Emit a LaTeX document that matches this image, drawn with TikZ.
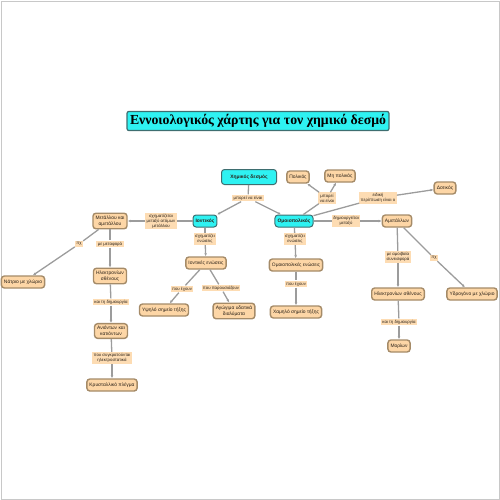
\documentclass[tikz,border=0pt]{standalone}
\usepackage{fontspec}
\setmainfont{Liberation Serif}
\setsansfont{Liberation Sans}
\usetikzlibrary{arrows.meta}
\definecolor{mapink}{HTML}{2A2118}
\definecolor{mapline}{HTML}{9C9C9C}
\definecolor{mappeach}{HTML}{FDD6A6}
\definecolor{mapedge}{HTML}{A58B68}
\definecolor{mapcyan}{HTML}{2EF2F2}
\definecolor{mapteal}{HTML}{3E6E70}
\definecolor{mapframe}{HTML}{C8C8C8}

\begin{document}
\begin{tikzpicture}[x=1pt, y=-1pt, font=\sffamily\fontsize{4.3}{5}\selectfont, >={Latex[length=3pt,width=2.8pt]},
  c/.style={draw=mapedge, fill=mappeach, line width=1.4pt, rounded corners=3pt, inner sep=2.6pt, minimum height=12pt, align=center, text=mapink, font=\sffamily\fontsize{4.9}{5.7}\selectfont},
  key/.style={c, draw=mapteal, fill=mapcyan, line width=1pt, font=\sffamily\bfseries\fontsize{4.9}{5.7}\selectfont},
  lbl/.style={fill=mappeach!85, inner sep=1.4pt, align=center, text=mapink},
  link/.style={draw=mapline, line width=1.3pt},
  ttl/.style={draw=mapteal, fill=mapcyan, line width=1.2pt, rounded corners=2pt, inner sep=3pt, font=\rmfamily\bfseries\fontsize{13.8}{15}\selectfont}]
  \useasboundingbox (0,0) rectangle (500,500);
  \draw[mapframe, line width=0.8pt] (1,1) rectangle (499,499);
  % ---- title ----
  \node[ttl] (title) at (258,121) {Εννοιολογικός χάρτης για τον χημικό δεσμό};
  % ---- top ----
  \node[key, minimum width=55pt, minimum height=15pt] (chem) at (249,177) {Χημικός δεσμός};
  \node[lbl] (ltop) at (248,198) {μπορεί να είναι};
  \node[key] (ion) at (205,221) {Ιοντικός};
  \node[key] (cov) at (294,221) {Ομοιοπολικός};
  % ---- ionic, left ----
  \node[lbl] (lion) at (161,221) {σχηματίζεται\\μεταξύ ατόμων\\μετάλλου};
  \node[c] (metnon) at (110,221) {Μετάλλου και\\αμετάλλου};
  \node[lbl] (lpx) at (79,244) {πχ};
  \node[c] (nacl) at (23,282) {Νάτριο με χλώριο};
  \node[lbl] (lmove) at (110,244) {με μεταφορά};
  \node[c] (valL) at (110,276) {Ηλεκτρονίων\\σθένους};
  \node[lbl] (lcreate) at (111,302) {και τη δημιουργία};
  \node[c] (ions) at (111,331) {Ανιόντων και\\κατιόντων};
  \node[lbl] (lheld) at (112,358) {που συγκρατούνται\\ηλεκτροστατικά};
  \node[c] (cryst) at (112,385) {Κρυσταλλικό πλέγμα};
  % ---- ionic, down ----
  \node[lbl] (lionc) at (205,239) {σχηματίζει\\ενώσεις};
  \node[c] (ioncmp) at (206,263) {Ιοντικές ενώσεις};
  \node[lbl] (lhave) at (182,289) {που έχουν};
  \node[lbl] (lform) at (221,288) {που παρουσιάζουν};
  \node[c] (hmp) at (164,310) {Υψηλό σημείο τήξης};
  \node[c] (cond) at (234,311) {Αγώγιμα υδατικά\\διαλύματα};
  % ---- covalent ----
  \node[lbl] (lpol) at (327,198) {μπορεί\\να είναι};
  \node[c] (polar) at (298,177) {Πολικός};
  \node[c] (nonpolar) at (340,176) {Μη πολικός};
  \node[lbl] (ldat) at (378,198) {ειδική\\περίπτωση είναι ο};
  \node[c] (dative) at (445,188) {Δοτικός};
  \node[lbl] (lnon) at (346,221) {δημιουργείται\\μεταξύ};
  \node[c] (nonmet) at (397,221) {Αμετάλλων};
  \node[lbl] (lcovc) at (295,239) {σχηματίζει\\ενώσεις};
  \node[c] (covcmp) at (296,265) {Ομοιοπολικές ενώσεις};
  \node[lbl] (lhavec) at (296,284) {που έχουν};
  \node[c] (lmp) at (296,312) {Χαμηλό σημείο τήξης};
  % ---- non-metals ----
  \node[lbl] (lmutual) at (398,257) {με αμοιβαία\\συνεισφορά};
  \node[c] (valR) at (398,294) {Ηλεκτρονίων σθένους};
  \node[lbl] (lcreatec) at (399,322) {και τη δημιουργία};
  \node[c] (molec) at (399,346) {Μορίων};
  \node[lbl] (lpxr) at (434,258) {πχ};
  \node[c] (hcl) at (472,294) {Υδρογόνο με χλώριο};
  % ---- connectors ----
  \foreach \a/\b in {chem/ltop, ion/lion, ion/lionc, metnon/lpx, metnon/lmove, valL/lcreate, ions/lheld, ioncmp/lhave, ioncmp/lform,
    cov/lpol, cov/ldat, cov/lnon, cov/lcovc, covcmp/lhavec, nonmet/lmutual, valR/lcreatec, nonmet/lpxr} { \draw[link] (\a) -- (\b); }
  \foreach \a/\b in {ltop/ion, ltop/cov, lion/metnon, lpx/nacl, lmove/valL, lcreate/ions, lheld/cryst, lionc/ioncmp, lhave/hmp, lform/cond,
    lpol/polar, lpol/nonpolar, ldat/dative, lnon/nonmet, lcovc/covcmp, lhavec/lmp, lmutual/valR, lcreatec/molec, lpxr/hcl} { \draw[link, ->] (\a) -- (\b); }
\end{tikzpicture}
\end{document}
